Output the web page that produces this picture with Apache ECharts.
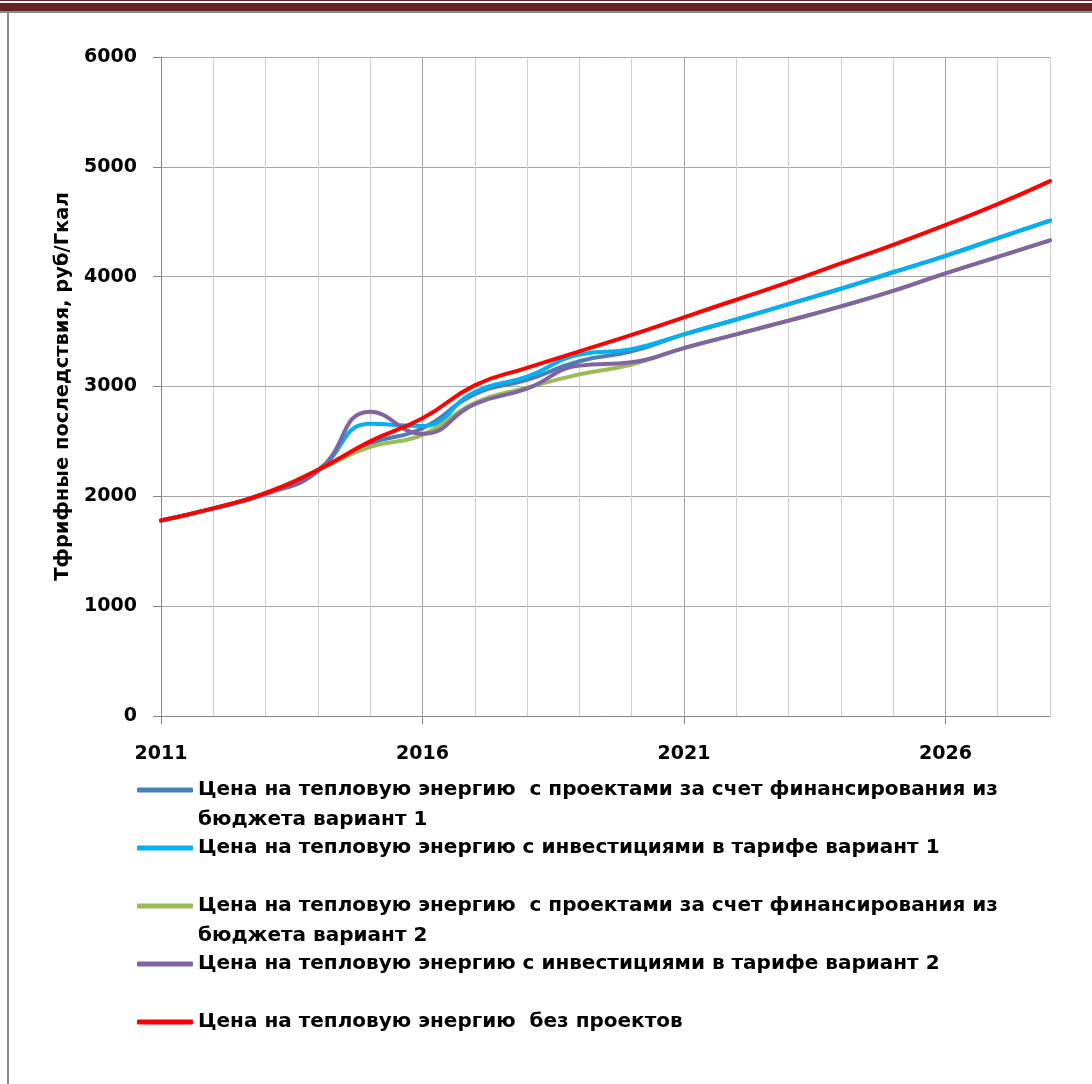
<!DOCTYPE html>
<html lang="ru">
<head>
<meta charset="UTF-8">
<title>Цена на тепловую энергию</title>
<script src="https://cdn.jsdelivr.net/npm/echarts@6/dist/echarts.min.js"></script>
<style>
  html, body { margin: 0; padding: 0; background: #fff; }
  #main { width: 1092px; height: 1084px; }
</style>
</head>
<body>
<div id="main"></div>
<script>
// годы
var years = ['2011','2012','2013','2014','2015','2016','2017','2018','2019','2020',
             '2021','2022','2023','2024','2025','2026','2027','2028'];

// названия рядов
var nameBudget1 = 'Цена на тепловую энергию  с проектами за счет финансирования из бюджета вариант 1';
var nameInvest1 = 'Цена на тепловую энергию с инвестициями в тарифе вариант 1';
var nameBudget2 = 'Цена на тепловую энергию  с проектами за счет финансирования из бюджета вариант 2';
var nameInvest2 = 'Цена на тепловую энергию с инвестициями в тарифе вариант 2';
var nameNoProj  = 'Цена на тепловую энергию  без проектов';

// значения, руб/Гкал
var budget1 = [1780,1890,2030,2240,2480,2620,2930,3060,3230,3320,3475,3610,3750,3890,4040,4190,4350,4510];
var invest1 = [1780,1890,2030,2240,2660,2640,2950,3090,3290,3340,3475,3610,3750,3890,4040,4190,4350,4510];
var budget2 = [1780,1890,2030,2240,2450,2560,2850,2990,3110,3200,3350,3475,3600,3730,3870,4030,4180,4330];
var invest2 = [1780,1890,2020,2230,2770,2570,2840,2980,3190,3220,3350,3475,3600,3730,3870,4030,4180,4330];
var noProj  = [1780,1890,2030,2240,2500,2710,3010,3170,3320,3470,3630,3790,3950,4120,4290,4470,4660,4870];

var font = 'DejaVu Sans';
var chart = echarts.init(document.getElementById('main'));

function mkLine(name, data, color) {
  return {
    name: name,
    type: 'line',
    data: data,
    smooth: true,
    symbol: 'none',
    lineStyle: { width: 4, color: color, cap: 'round' },
    itemStyle: { color: color }
  };
}

chart.setOption({
  animation: false,
  backgroundColor: '#fff',
  graphic: [
    { type: 'rect', shape: { x: 0, y: 0, width: 1092, height: 1 }, style: { fill: '#632523' } },
    { type: 'rect', shape: { x: 0, y: 3, width: 1092, height: 8 }, style: { fill: '#632523' } },
    { type: 'rect', shape: { x: 0, y: 11, width: 1092, height: 2 }, style: { fill: '#8c8c8c' } },
    { type: 'rect', shape: { x: 7, y: 11, width: 2, height: 1073 }, style: { fill: '#8c8c8c' } }
  ],
  grid: { left: 161, right: 42, top: 57, bottom: 368 },
  xAxis: [{
    type: 'category',
    data: years,
    boundaryGap: false,
    axisLine: { lineStyle: { color: '#868686', width: 1 } },
    axisTick: { show: true, interval: 4, length: 8, lineStyle: { color: '#868686' } },
    axisLabel: { interval: 4, margin: 29, color: '#000', fontFamily: font, fontWeight: 'bold', fontSize: 19 },
    splitLine: { show: true, interval: 0, lineStyle: { color: '#d0d0d0', width: 1 } }
  }, {
    type: 'category',
    data: years,
    boundaryGap: false,
    position: 'bottom',
    axisLine: { show: false },
    axisTick: { show: false },
    axisLabel: { show: false },
    splitLine: { show: true, interval: 4, lineStyle: { color: '#a6a6a6', width: 1 } }
  }],
  yAxis: {
    type: 'value',
    min: 0,
    max: 6000,
    interval: 1000,
    name: 'Тфрифные последствия, руб/Гкал',
    nameLocation: 'middle',
    nameRotate: 90,
    nameGap: 88,
    nameTextStyle: { color: '#000', fontFamily: font, fontWeight: 'bold', fontSize: 19.5 },
    axisLine: { show: true, lineStyle: { color: '#868686', width: 1 } },
    axisTick: { show: true, length: 8, lineStyle: { color: '#868686' } },
    axisLabel: {
      margin: 24, color: '#000', fontFamily: font, fontWeight: 'bold', fontSize: 19,
      formatter: function (v) { return String(v); }
    },
    splitLine: { show: true, lineStyle: { color: '#a6a6a6', width: 1 } }
  },
  legend: {
    orient: 'vertical',
    left: 132,
    top: 740,
    icon: 'roundRect',
    itemWidth: 56,
    itemHeight: 5,
    itemGap: -32,
    selectedMode: false,
    data: [nameBudget1, nameInvest1, nameBudget2, nameInvest2, nameNoProj],
    formatter: function (name) {
      // пустая первая строка, чтобы линия легенды стояла напротив первой строки текста
      if (name.indexOf(' из бюджета') > 0) return '\u00a0\n' + name.replace(' из бюджета', ' из\nбюджета');
      return '\u00a0\n' + name + '\n\u00a0';
    },
    textStyle: { color: '#000', fontFamily: font, fontWeight: 'bold', fontSize: 20, lineHeight: 30 }
  },
  series: [
    mkLine(nameBudget1, budget1, '#4a7ebb'),
    mkLine(nameInvest1, invest1, '#00b0f0'),
    mkLine(nameBudget2, budget2, '#9bbb59'),
    mkLine(nameInvest2, invest2, '#8064a2'),
    mkLine(nameNoProj, noProj, '#ff0000')
  ]
});
</script>
</body>
</html>
